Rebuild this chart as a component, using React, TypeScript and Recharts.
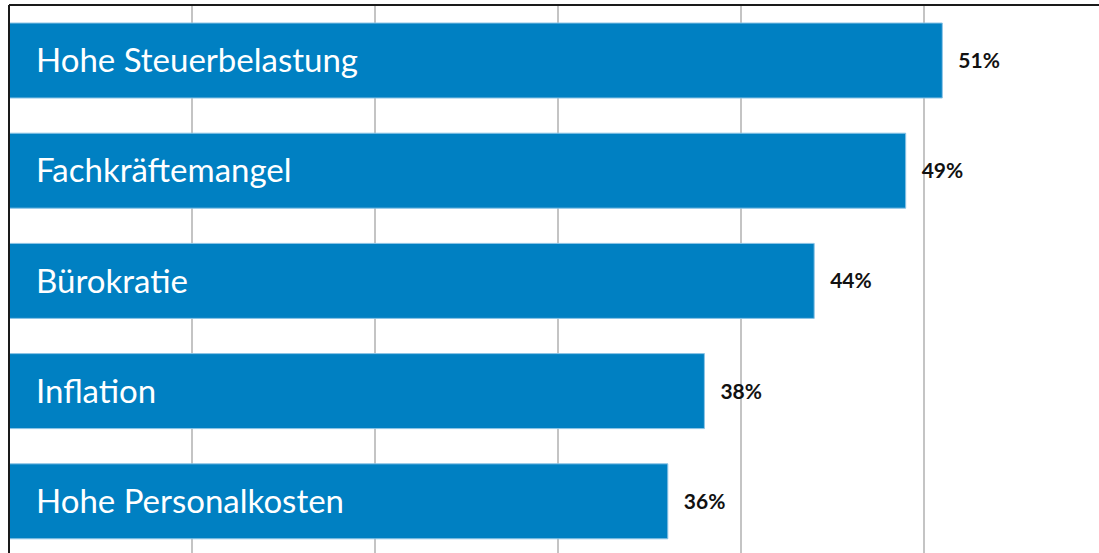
import { BarChart, Bar, XAxis, YAxis, CartesianGrid, LabelList } from 'recharts';

const categories = ['Hohe Steuerbelastung', 'Fachkräftemangel', 'Bürokratie', 'Inflation', 'Hohe Personalkosten'];
const shares = [51, 49, 44, 38, 36];
const xTicks = [0, 10, 20, 30, 40, 50, 60];

const data = categories.map((name, i) => ({ name, value: shares[i] }));

const NoTick = () => <g />;

export default function App() {
    return (
        <div style={{ position: 'absolute', left: 0, top: 0, width: 1099, height: 553, overflow: 'hidden', background: '#fff' }}>
            <BarChart
                width={1107}
                height={556}
                data={data}
                layout="vertical"
                margin={{ top: 0, right: 0, left: 0, bottom: 0 }}
            >
                <CartesianGrid horizontal={false} stroke="#c4c4c4" strokeWidth={2} />
                <XAxis
                    type="number"
                    orientation="top"
                    domain={[0, 60]}
                    ticks={xTicks}
                    interval={0}
                    height={5}
                    tick={NoTick}
                    tickLine={false}
                    axisLine={{ stroke: '#1a1a1a', strokeWidth: 2 }}
                />
                <YAxis
                    type="category"
                    dataKey="name"
                    width={9}
                    tick={false}
                    tickLine={false}
                    axisLine={{ stroke: '#1a1a1a', strokeWidth: 2 }}
                />
                <Bar dataKey="value" fill="#0080c2" stroke="#8cc4e6" strokeWidth={1} barSize={75} isAnimationActive={false}>
                    <LabelList
                        dataKey="name"
                        position="insideLeft"
                        offset={27}
                        fill="#ffffff"
                        style={{ fontFamily: 'Lato', fontSize: 33 }}
                    />
                    <LabelList
                        dataKey="value"
                        position="right"
                        offset={16}
                        formatter={(v: number) => `${v}%`}
                        fill="#111111"
                        style={{ fontFamily: 'Lato', fontSize: 21, fontWeight: 700 }}
                    />
                </Bar>
            </BarChart>
        </div>
    );
}
